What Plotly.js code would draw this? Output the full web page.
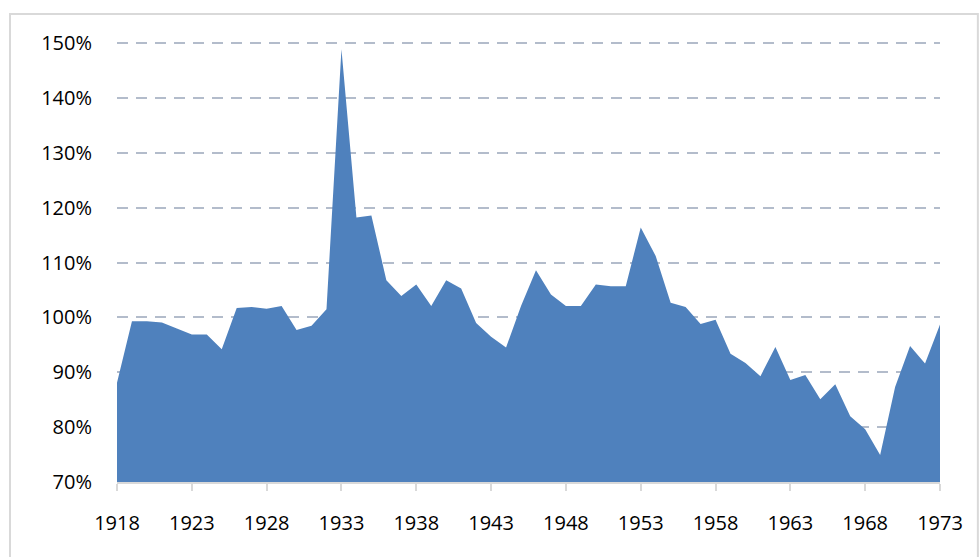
<!DOCTYPE html>
<html>
<head>
<meta charset="utf-8">
<script src="https://cdn.plot.ly/plotly-3.0.1.min.js"></script>
<style>
  html, body { margin: 0; padding: 0; background: #ffffff; }
  #chart { width: 979px; height: 557px; }
</style>
</head>
<body>
<div id="chart"></div>
<script>
// Years 1918–1973
const years = [
  1918, 1919, 1920, 1921, 1922, 1923, 1924, 1925, 1926, 1927,
  1928, 1929, 1930, 1931, 1932, 1933, 1934, 1935, 1936, 1937,
  1938, 1939, 1940, 1941, 1942, 1943, 1944, 1945, 1946, 1947,
  1948, 1949, 1950, 1951, 1952, 1953, 1954, 1955, 1956, 1957,
  1958, 1959, 1960, 1961, 1962, 1963, 1964, 1965, 1966, 1967,
  1968, 1969, 1970, 1971, 1972, 1973
];
// Values in percent
const values = [
  88.1, 99.3, 99.3, 99.1, 98.0, 96.9, 96.9, 94.2, 101.7, 101.9,
  101.6, 102.1, 97.7, 98.5, 101.5, 148.9, 118.2, 118.6, 106.8, 103.9,
  106.0, 102.1, 106.8, 105.3, 99.0, 96.5, 94.5, 102.1, 108.6, 104.2,
  102.1, 102.1, 106.0, 105.7, 105.7, 116.4, 111.2, 102.7, 101.9, 98.8,
  99.6, 93.4, 91.7, 89.3, 94.6, 88.6, 89.5, 85.1, 87.8, 82.0,
  79.6, 74.9, 87.3, 94.8, 91.6, 98.7
];
const xTickVals = [1918, 1923, 1928, 1933, 1938, 1943, 1948, 1953, 1958, 1963, 1968, 1973];
const yTickVals = [70, 80, 90, 100, 110, 120, 130, 140, 150];

const trace = {
  x: years,
  y: values,
  type: 'scatter',
  mode: 'lines',
  fill: 'tozeroy',
  fillcolor: '#4F81BD',
  line: { width: 0, color: '#4F81BD' },
  hoverinfo: 'x+y'
};

const fontFam = '"Open Sans", "Liberation Sans", sans-serif';

const layout = {
  width: 979,
  height: 557,
  margin: { l: 117, r: 39, t: 40.8, b: 75 },
  paper_bgcolor: '#ffffff',
  plot_bgcolor: '#ffffff',
  showlegend: false,
  font: { family: fontFam, size: 20, color: '#000000' },
  xaxis: {
    range: [1918, 1973],
    tickmode: 'array',
    tickvals: xTickVals,
    ticktext: xTickVals.map(String),
    showgrid: false,
    zeroline: false,
    showline: true,
    linecolor: '#d9d9d9',
    linewidth: 2,
    ticks: 'outside',
    ticklen: 7,
    tickwidth: 2,
    tickcolor: '#d9d9d9',
    ticklabelstandoff: 15,
    tickfont: { family: fontFam, size: 20, color: '#000000' },
    fixedrange: true
  },
  yaxis: {
    range: [70, 150.4],
    tickmode: 'array',
    tickvals: yTickVals,
    ticktext: yTickVals.map(v => v + '%'),
    showgrid: true,
    gridcolor: '#b3bccb',
    gridwidth: 2,
    griddash: '11px,8px',
    zeroline: false,
    showline: false,
    ticks: '',
    ticklabelstandoff: 24,
    tickfont: { family: fontFam, size: 20, color: '#000000' },
    fixedrange: true
  },
  shapes: [
    {
      type: 'rect',
      xref: 'paper', yref: 'paper',
      x0: -0.130, x1: 1.046,
      y0: -0.25, y1: 1.061,
      line: { color: '#d9d9d9', width: 2 },
      fillcolor: 'rgba(0,0,0,0)',
      layer: 'below'
    }
  ]
};

Plotly.newPlot('chart', [trace], layout, { displayModeBar: false, staticPlot: true });
</script>
</body>
</html>
